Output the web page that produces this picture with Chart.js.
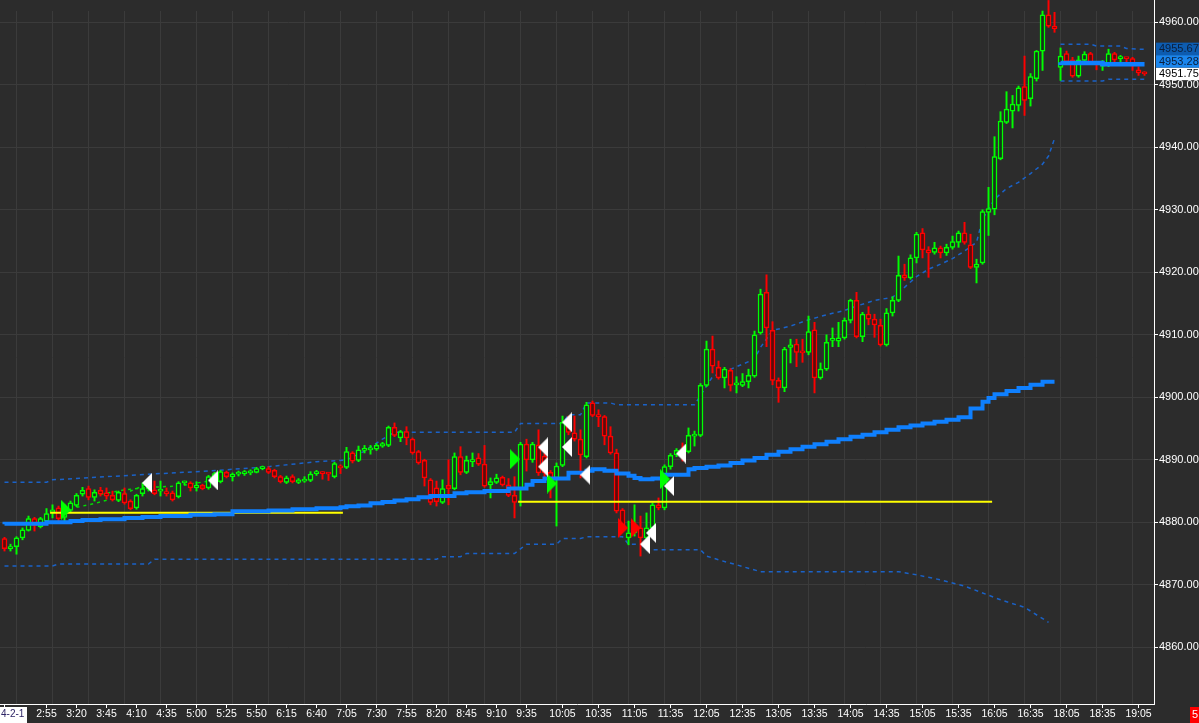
<!DOCTYPE html>
<html><head><meta charset="utf-8">
<script src="https://cdn.jsdelivr.net/npm/chart.js@4.4.1/dist/chart.umd.min.js"></script>
<style>html,body{margin:0;padding:0;background:#2c2c2c;overflow:hidden}</style>
</head><body><canvas id="c" width="1199" height="723"></canvas>
<script>
// ---------------- DATA ----------------
const opens = [
4877.4,4875.8,4876.1,4877.5,4878.7,4880.6,4879.3,4880.2,4881.6,4882.3,
4880.8,4881.9,4882.7,4884.5,4885.4,4884.0,4885.1,4884.7,4884.3,4883.5,
4884.6,4883.4,4882.3,4884.6,4885.3,4885.2,4885.0,4884.9,4884.7,4884.1,
4886.3,4886.3,4885.5,4885.9,4885.5,4887.0,4886.5,4888.0,4887.3,4887.7,
4887.8,4887.9,4888.0,4888.6,4888.6,4888.3,4887.3,4886.4,4887.3,4886.4,
4886.6,4886.7,4887.8,4887.9,4887.8,4887.3,4889.0,4888.8,4891.1,4889.9,
4891.5,4891.6,4891.7,4892.2,4892.3,4895.2,4893.5,4894.5,4893.3,4891.3,
4889.9,4886.8,4885.5,4883.2,4885.9,4885.4,4890.5,4888.0,4889.7,4890.3,
4889.3,4886.0,4886.4,4887.2,4886.0,4884.3,4885.2,4892.5,4890.0,4892.4,
4890.6,4888.0,4887.1,4889.1,4896.0,4894.3,4893.3,4890.5,4899.1,4897.1,
4896.9,4893.8,4891.1,4882.0,4877.5,4878.3,4879.1,4877.5,4879.1,4882.8,
4882.3,4888.9,4890.8,4891.5,4891.3,4893.8,4893.9,4901.9,4907.7,4904.8,
4903.1,4904.3,4902.0,4901.9,4902.5,4903.4,4910.3,4916.8,4910.7,4902.7,
4901.5,4908.0,4908.5,4907.2,4907.2,4910.8,4903.1,4904.5,4909.1,4909.0,
4909.5,4912.3,4915.5,4909.7,4913.3,4912.5,4911.5,4908.4,4913.5,4915.5,
4919.6,4919.1,4922.3,4926.3,4923.6,4923.2,4923.9,4923.1,4924.0,4924.8,
4926.3,4924.4,4920.8,4921.5,4929.6,4930.1,4938.2,4944.0,4945.8,4946.7,
4949.7,4947.8,4951.0,4955.4,4961.2,4959.4,4952.8,4955.0,4954.0,4951.4,
4953.9,4955.0,4953.4,4953.0,4953.1,4955.0,4954.2,4954.3,4954.2,4952.4,4952.0];
const highs = [
4877.6,4876.5,4877.7,4879.1,4881.0,4880.8,4880.8,4882.2,4882.8,4882.6,
4882.8,4883.4,4884.6,4885.6,4885.8,4885.2,4885.6,4885.5,4885.0,4885.0,
4885.5,4883.6,4884.5,4886.3,4886.6,4886.6,4886.6,4885.5,4885.0,4886.5,
4886.6,4886.5,4886.5,4886.1,4887.5,4888.0,4888.3,4888.2,4887.9,4888.2,
4888.3,4888.4,4888.8,4889.0,4888.9,4888.5,4887.5,4887.4,4887.6,4887.0,
4887.3,4888.1,4888.3,4888.1,4888.0,4889.6,4889.2,4892.0,4891.3,4892.2,
4892.3,4892.3,4892.6,4892.8,4895.4,4895.9,4894.7,4895.3,4893.5,4891.5,
4890.1,4887.0,4886.6,4886.8,4890.0,4891.1,4892.1,4890.6,4891.1,4891.0,
4892.3,4887.1,4887.7,4887.4,4887.0,4887.3,4892.8,4893.3,4892.8,4894.8,
4891.0,4888.3,4889.5,4897.0,4897.0,4897.0,4894.8,4899.2,4899.4,4898.0,
4897.1,4895.3,4891.7,4882.2,4880.2,4882.8,4881.0,4881.5,4883.1,4883.9,
4889.2,4891.0,4891.8,4892.7,4895.1,4894.6,4902.2,4909.0,4909.8,4905.8,
4904.8,4904.6,4903.3,4903.8,4904.5,4910.6,4917.3,4919.6,4912.1,4903.1,
4908.0,4909.3,4909.3,4909.3,4913.0,4912.0,4905.5,4910.0,4911.1,4912.0,
4912.7,4915.7,4916.8,4913.6,4914.5,4913.3,4912.5,4914.2,4916.1,4922.6,
4921.3,4922.8,4926.4,4927.0,4924.1,4924.8,4924.2,4924.5,4925.8,4926.6,
4928.0,4926.1,4922.1,4930.0,4933.6,4941.7,4945.7,4948.9,4948.3,4949.8,
4954.6,4951.8,4955.5,4961.8,4963.5,4961.6,4955.9,4955.4,4954.4,4954.6,
4955.3,4955.2,4953.7,4953.9,4955.7,4955.2,4954.7,4954.4,4954.4,4952.9,4952.1];
const lows = [
4875.4,4875.4,4874.9,4877.2,4878.6,4878.6,4879.1,4880.0,4880.7,4879.9,
4880.2,4881.7,4882.5,4884.2,4883.6,4883.4,4884.2,4883.7,4883.4,4883.3,
4882.9,4882.0,4882.1,4884.2,4885.0,4884.4,4884.2,4884.2,4883.4,4883.9,
4886.0,4885.0,4885.0,4885.2,4885.3,4886.8,4886.3,4887.1,4886.6,4887.4,
4887.5,4887.6,4887.9,4888.4,4887.8,4887.1,4886.3,4886.2,4886.3,4886.2,
4886.4,4886.5,4887.5,4886.9,4886.7,4887.1,4887.8,4888.6,4889.5,4889.7,
4891.1,4890.9,4891.5,4892.0,4892.1,4893.7,4892.9,4892.4,4890.9,4889.3,
4885.8,4882.8,4882.6,4883.0,4882.8,4885.2,4887.6,4887.8,4888.9,4889.1,
4885.6,4883.9,4886.2,4885.8,4884.1,4880.7,4882.6,4888.2,4889.6,4887.5,
4887.0,4883.9,4879.4,4888.9,4894.0,4893.0,4887.1,4890.3,4896.9,4895.3,
4892.4,4890.9,4881.5,4878.8,4876.4,4877.8,4874.6,4876.8,4878.9,4882.0,
4882.0,4888.5,4890.5,4889.8,4891.1,4892.2,4893.7,4901.7,4903.9,4902.9,
4901.5,4901.0,4900.7,4901.7,4901.5,4903.2,4910.1,4908.1,4902.0,4899.2,
4900.9,4905.5,4904.9,4905.6,4906.8,4900.7,4902.9,4904.3,4908.1,4908.1,
4909.3,4911.9,4909.5,4908.9,4911.6,4909.6,4908.2,4908.2,4913.0,4915.3,
4918.7,4918.9,4921.5,4922.3,4919.2,4922.9,4922.3,4922.7,4923.7,4924.0,
4924.5,4920.6,4918.3,4921.3,4925.9,4929.2,4938.0,4943.8,4943.1,4945.8,
4945.1,4946.6,4950.6,4952.3,4959.2,4958.4,4950.7,4953.4,4951.2,4951.2,
4953.7,4953.3,4952.4,4952.3,4952.9,4953.7,4953.7,4953.4,4952.3,4951.5,4951.5];
const closes = [
4875.8,4876.1,4877.5,4878.8,4880.6,4879.5,4880.6,4881.4,4882.0,4880.6,
4882.5,4883.1,4884.3,4885.1,4884.0,4884.8,4884.5,4884.2,4883.6,4884.8,
4883.1,4882.2,4884.3,4885.4,4886.2,4884.6,4885.3,4884.6,4883.6,4886.3,
4886.5,4885.5,4885.9,4885.4,4887.3,4887.8,4888.1,4887.3,4887.7,4887.9,
4888.0,4888.0,4888.6,4888.8,4888.0,4887.3,4886.5,4887.1,4886.5,4886.8,
4886.8,4887.7,4887.9,4887.8,4887.7,4889.4,4888.7,4891.3,4889.8,4891.6,
4891.7,4891.7,4892.3,4892.6,4895.2,4893.9,4894.5,4893.5,4891.1,4889.5,
4887.1,4883.2,4883.3,4885.4,4885.4,4890.5,4888.0,4889.9,4889.9,4889.3,
4885.8,4886.5,4887.1,4886.0,4884.3,4883.2,4892.5,4890.0,4892.5,4887.9,
4887.9,4885.8,4889.0,4896.0,4894.4,4893.3,4890.8,4898.8,4897.1,4896.9,
4893.8,4891.1,4881.8,4879.4,4878.3,4879.0,4877.5,4879.1,4882.8,4882.3,
4888.9,4890.7,4891.5,4891.3,4893.9,4893.9,4901.9,4907.7,4905.0,4903.1,
4904.5,4901.9,4902.2,4902.5,4903.5,4910.0,4916.5,4911.1,4902.7,4901.5,
4907.7,4908.4,4907.2,4907.1,4910.5,4903.1,4904.5,4908.8,4909.2,4909.5,
4912.3,4915.5,4909.7,4913.3,4912.5,4911.6,4908.4,4913.5,4915.5,4919.5,
4919.1,4922.3,4926.1,4923.6,4923.1,4923.9,4923.1,4924.0,4924.9,4926.3,
4924.8,4920.8,4921.3,4929.7,4930.2,4938.5,4944.2,4946.1,4946.9,4949.5,
4947.5,4951.3,4955.4,4961.2,4959.4,4959.0,4954.6,4953.7,4951.4,4954.0,
4954.9,4953.5,4953.3,4953.1,4955.0,4954.0,4954.3,4954.2,4953.1,4951.9,4951.75];

// VWAP (step points: bar index where value changes)
const vwapDayBars = [0,7,11,13,16,20,23,26,31,35,38,44,48,52,56,57,59,61,63,65,67,69,71,75,77,80,84,87,88,90,94,97,98,100,102,104,105,106,108,110,114,115,117,119,121,123,125,127,129,131,133,135,137,139,141,143,145,147,149,151,153,155,157,159,161,163,164,165,167,169,171,173,175];
const vwapDayValues = [4879.68,4879.78,4880.0,4880.2,4880.37,4880.5,4880.7,4880.85,4881.0,4881.2,4881.3,4881.76,4881.9,4882.08,4882.24,4882.4,4882.56,4882.7,4883.04,4883.25,4883.5,4883.7,4884.0,4884.2,4884.64,4884.8,4885.0,4885.4,4886.0,4886.6,4887.0,4887.93,4888.25,4888.5,4888.25,4887.8,4887.45,4887.1,4886.9,4887.0,4887.6,4888.5,4888.7,4888.9,4889.1,4889.5,4889.9,4890.3,4890.8,4891.3,4891.7,4892.1,4892.5,4892.9,4893.3,4893.7,4894.0,4894.4,4894.8,4895.2,4895.5,4895.8,4896.1,4896.4,4896.8,4898.2,4899.3,4899.9,4900.5,4901.0,4901.5,4902.0,4902.5];
const vwapNightBars = [176,183,188,190];
const vwapNightValues = [4953.6,4953.5,4953.3,4953.3];

// Upper / lower deviation bands
const upperDayBars = [0,7,8,17,26,34,44,49,52,57,60,63,65,85,86,93,94,96,97,101,102,115,118,121,123,125,126,128,131,134,137,140,142,145,148,150,152,154,156,158,160,162,163,165,167,169,171,173,174,175];
const upperDayValues = [4886.4,4886.4,4886.8,4887.3,4887.8,4888.2,4888.9,4889.4,4889.7,4889.96,4891.4,4893.3,4894.4,4894.4,4895.8,4895.8,4897.2,4897.2,4899.1,4899.1,4898.8,4898.8,4903.3,4904.5,4905.3,4906.1,4908.0,4910.7,4911.4,4912.4,4913.2,4913.9,4914.6,4915.5,4916.0,4917.6,4919.3,4920.5,4921.3,4922.2,4923.4,4924.8,4928.5,4931.7,4933.4,4934.4,4935.8,4937.3,4938.6,4941.4];
const lowerDayBars = [0,8,9,24,25,72,73,76,77,85,87,92,93,96,97,103,104,106,107,116,117,119,122,126,149,152,156,160,166,170,174];
const lowerDayValues = [4873.0,4873.0,4873.33,4873.33,4874.1,4874.1,4874.5,4874.5,4875.0,4875.0,4876.5,4876.5,4877.4,4877.4,4877.7,4877.7,4876.5,4876.5,4875.6,4875.6,4874.6,4874.0,4873.2,4872.1,4872.1,4871.6,4870.8,4869.8,4867.6,4866.4,4864.0];
const upperNightBars = [176,181,182,186,187,190];
const upperNightValues = [4956.5,4956.5,4956.2,4956.2,4955.8,4955.67];
const lowerNightBars = [176,183,184,190];
const lowerNightValues = [4950.6,4950.6,4950.9,4950.9];

// Short green dashed averages
const greenDash1Bars = [12,15,18,21,24];
const greenDash1Values = [4882.4,4883.0,4883.8,4885.0,4886.2];
const greenDash2Bars = [16,20,24,29,34];
const greenDash2Values = [4884.5,4885.2,4885.6,4885.8,4886.6];

// Yellow levels
const yellowStart = [7.6, 85.6];
const yellowEnd = [56.4, 164.6];
const yellowLevel = [4881.55, 4883.3];

// Signal markers
const whiteLeftBars = [23.75,34.75,89.75,89.75,93.75,93.75,96.8,107.75,106.75,110.75,112.75];
const whiteLeftPrices = [4886.3,4886.7,4892.0,4888.9,4896.0,4892.05,4887.6,4878.3,4876.5,4885.8,4891.0];
const greenRightBars = [10.25,85.1,91.25,110.1];
const greenRightPrices = [4882.0,4890.1,4886.2,4886.9];
const redRightBars = [103.1,105.2];
const redRightPrices = [4879.1,4879.1];

// Axis
const labelBars = [0,7,12,17,22,27,32,37,42,47,52,57,62,67,72,77,82,87,93,99,105,111,117,123,129,135,141,147,153,159,165,171,177,183,189];
const timeLabels = ['','2:55','3:20','3:45','4:10','4:35','5:00','5:25','5:50','6:15','6:40','7:05','7:30','7:55','8:20','8:45','9:10','9:35','10:05','10:35','11:05','11:35','12:05','12:35','13:05','13:35','14:05','14:35','15:05','15:35','16:05','16:35','18:05','18:35','19:05'];
const dateLabel = '4-2-1';
const priceTicks = [4860,4870,4880,4890,4900,4910,4920,4930,4940,4950,4960];
const lastValues = [4955.67, 4953.28, 4951.75];
const cornerLabel = '5';

// ---------------- STYLE ----------------
const BG = '#2c2c2c', GRID = '#3b3b3b', GREEN = '#00ff00', RED = '#ff0000';
const GREEN_FILL = '#15331a', RED_FILL = '#5e0a0a';
const BLUE = '#0f80ff', BAND = '#1a62c8', FONT = '"Liberation Sans", Arial, sans-serif';

const bars = opens.map((_, i) => i);
const isUp = bars.map(i => closes[i] >= opens[i]);
const candleColor = bars.map(i => isUp[i] ? GREEN : RED);
const candleFill = bars.map(i => isUp[i] ? GREEN_FILL : RED_FILL);
const pts = (xs, ys) => xs.map((x, k) => ({x, y: ys[k]}));

const gridBars = [];
for (let b = 2; b <= 190; b += 6) gridBars.push(b);
const gridSet = new Set(gridBars);
const labelMap = new Map(labelBars.map((b, k) => [b, timeLabels[k]]));
const allXTicks = Array.from(new Set([...labelBars, ...gridBars])).sort((a, b) => a - b);

function tri(dir, color) {
  const c = document.createElement('canvas'); c.width = 10; c.height = 20;
  const g = c.getContext('2d'); g.fillStyle = color; g.beginPath();
  if (dir === 'left') { g.moveTo(0, 10); g.lineTo(10, 0); g.lineTo(10, 20); }
  else { g.moveTo(10, 10); g.lineTo(0, 0); g.lineTo(0, 20); }
  g.closePath(); g.fill(); return c;
}
const triWhiteL = tri('left', '#ffffff');
const triGreenR = tri('right', GREEN);
const triRedR = tri('right', RED);

const lineDS = (data, color, width, extra) => Object.assign({
  type: 'line', data, borderColor: color, borderWidth: width, pointRadius: 0,
  fill: false, tension: 0, clip: false
}, extra || {});

const markerDS = (data, img) => ({
  type: 'line', data, showLine: false, pointStyle: img, pointRadius: 5,
  pointHoverRadius: 5, order: 0, clip: false
});

const overlay = {
  id: 'overlay',
  beforeDraw(chart) {
    const c = chart.ctx; c.save(); c.fillStyle = BG; c.fillRect(0, 0, chart.width, chart.height); c.restore();
  },
  afterDraw(chart) {
    const c = chart.ctx, ys = chart.scales.y, a = chart.chartArea;
    c.save();
    c.strokeStyle = '#ffffff'; c.lineWidth = 1;
    c.beginPath(); c.moveTo(Math.round(a.right) + 0.5, 0); c.lineTo(Math.round(a.right) + 0.5, a.top); c.stroke();
    const bgs = ['#0d5cb0', '#1a86ee', '#ffffff'];
    const fgs = ['#0b1e3a', '#0b1e3a', '#000000'];
    const h = 12.5; let prev = Infinity;
    c.font = '11px ' + FONT; c.textBaseline = 'middle'; c.textAlign = 'left';
    for (let k = lastValues.length - 1; k >= 0; k--) {
      let cy = ys.getPixelForValue(lastValues[k]);
      if (cy > prev - h) cy = prev - h;
      prev = cy;
      c.fillStyle = bgs[k]; c.fillRect(a.right + 2, cy - h / 2, chart.width - a.right - 2, h);
      c.fillStyle = fgs[k]; c.fillText(lastValues[k].toFixed(2), a.right + 5, cy + 0.5);
    }
    // date label
    c.fillStyle = '#ffffff'; c.fillRect(0, a.bottom + 3, 27, chart.height - a.bottom - 3);
    c.fillStyle = '#2e2466'; c.font = '10px ' + FONT; c.textBaseline = 'middle';
    c.fillText(dateLabel, 1, a.bottom + 10.5);
    // corner label
    c.fillStyle = '#ff0000'; c.fillRect(1190, a.bottom + 3, 9, chart.height - a.bottom - 3);
    c.fillStyle = '#ffffff'; c.font = '11px ' + FONT;
    c.fillText(cornerLabel, 1192, a.bottom + 10.5);
    c.restore();
  }
};

new Chart(document.getElementById('c'), {
  type: 'bar',
  data: {
    datasets: [
      markerDS(pts(whiteLeftBars, whiteLeftPrices), triWhiteL),
      markerDS(pts(greenRightBars, greenRightPrices), triGreenR),
      markerDS(pts(redRightBars, redRightPrices), triRedR),
      lineDS(pts(vwapDayBars, vwapDayValues), BLUE, 4, {stepped: 'after', order: 1, borderCapStyle: 'butt'}),
      lineDS(pts(vwapNightBars, vwapNightValues), BLUE, 4.5, {stepped: 'after', order: 1, borderCapStyle: 'butt'}),
      lineDS(pts([yellowStart[0], yellowEnd[0]], [yellowLevel[0], yellowLevel[0]]), '#ffff00', 2, {order: 2}),
      lineDS(pts([yellowStart[1], yellowEnd[1]], [yellowLevel[1], yellowLevel[1]]), '#ffff00', 2, {order: 2}),
      {
        type: 'bar', order: 3, data: bars.map(i => ({x: i, y: [opens[i], closes[i]]})),
        backgroundColor: candleFill, borderColor: candleColor, borderWidth: 1.5, borderSkipped: false,
        barThickness: 5, grouped: false, minBarLength: 2, clip: false
      },
      {
        type: 'bar', order: 4, data: bars.map(i => ({x: i, y: [lows[i], highs[i]]})),
        backgroundColor: candleColor, borderWidth: 0, barThickness: 1.3, grouped: false, clip: false
      },
      lineDS(pts(upperDayBars, upperDayValues), BAND, 1.5, {borderDash: [4, 4], order: 5}),
      lineDS(pts(lowerDayBars, lowerDayValues), BAND, 1.5, {borderDash: [4, 4], order: 5}),
      lineDS(pts(upperNightBars, upperNightValues), BAND, 1.5, {borderDash: [4, 4], order: 5}),
      lineDS(pts(lowerNightBars, lowerNightValues), BAND, 1.5, {borderDash: [4, 4], order: 5}),
      lineDS(pts(greenDash1Bars, greenDash1Values), '#00dd00', 1.5, {borderDash: [3, 4], order: 5}),
      lineDS(pts(greenDash2Bars, greenDash2Values), '#00dd00', 1.5, {borderDash: [3, 4], order: 5})
    ]
  },
  options: {
    responsive: false, maintainAspectRatio: false, animation: false, devicePixelRatio: 1,
    events: [],
    layout: {autoPadding: false, padding: {top: 11, left: 0, right: 0, bottom: 0}},
    plugins: {legend: {display: false}, tooltip: {enabled: false}},
    scales: {
      x: {
        type: 'linear', min: -0.75, max: 191.58, offset: false,
        afterBuildTicks: s => { s.ticks = allXTicks.map(v => ({value: v})); },
        afterFit: s => { s.height = 19; s.paddingLeft = 0; s.paddingRight = 0; },
        grid: {
          offset: false, drawTicks: true, tickLength: 4,
          color: ctx => (ctx.tick && gridSet.has(ctx.tick.value)) ? GRID : 'rgba(0,0,0,0)',
          tickColor: ctx => (ctx.tick && labelMap.has(ctx.tick.value)) ? '#ffffff' : 'rgba(0,0,0,0)'
        },
        border: {color: '#ffffff', width: 1},
        ticks: {
          autoSkip: false, maxRotation: 0, minRotation: 0, padding: 0, color: '#ffffff',
          font: {family: FONT, size: 10.5},
          callback: v => labelMap.has(v) ? labelMap.get(v) : ''
        }
      },
      y: {
        type: 'linear', position: 'right', min: 4850.93, max: 4961.81,
        afterBuildTicks: s => { s.ticks = priceTicks.map(v => ({value: v})); },
        afterFit: s => { s.width = 45; },
        grid: {color: GRID, tickColor: '#ffffff', tickLength: 4},
        border: {color: '#ffffff', width: 1},
        ticks: {color: '#ffffff', padding: 1, font: {family: FONT, size: 11}, callback: v => Number(v).toFixed(2)}
      }
    }
  },
  plugins: [overlay]
});
</script></body></html>
